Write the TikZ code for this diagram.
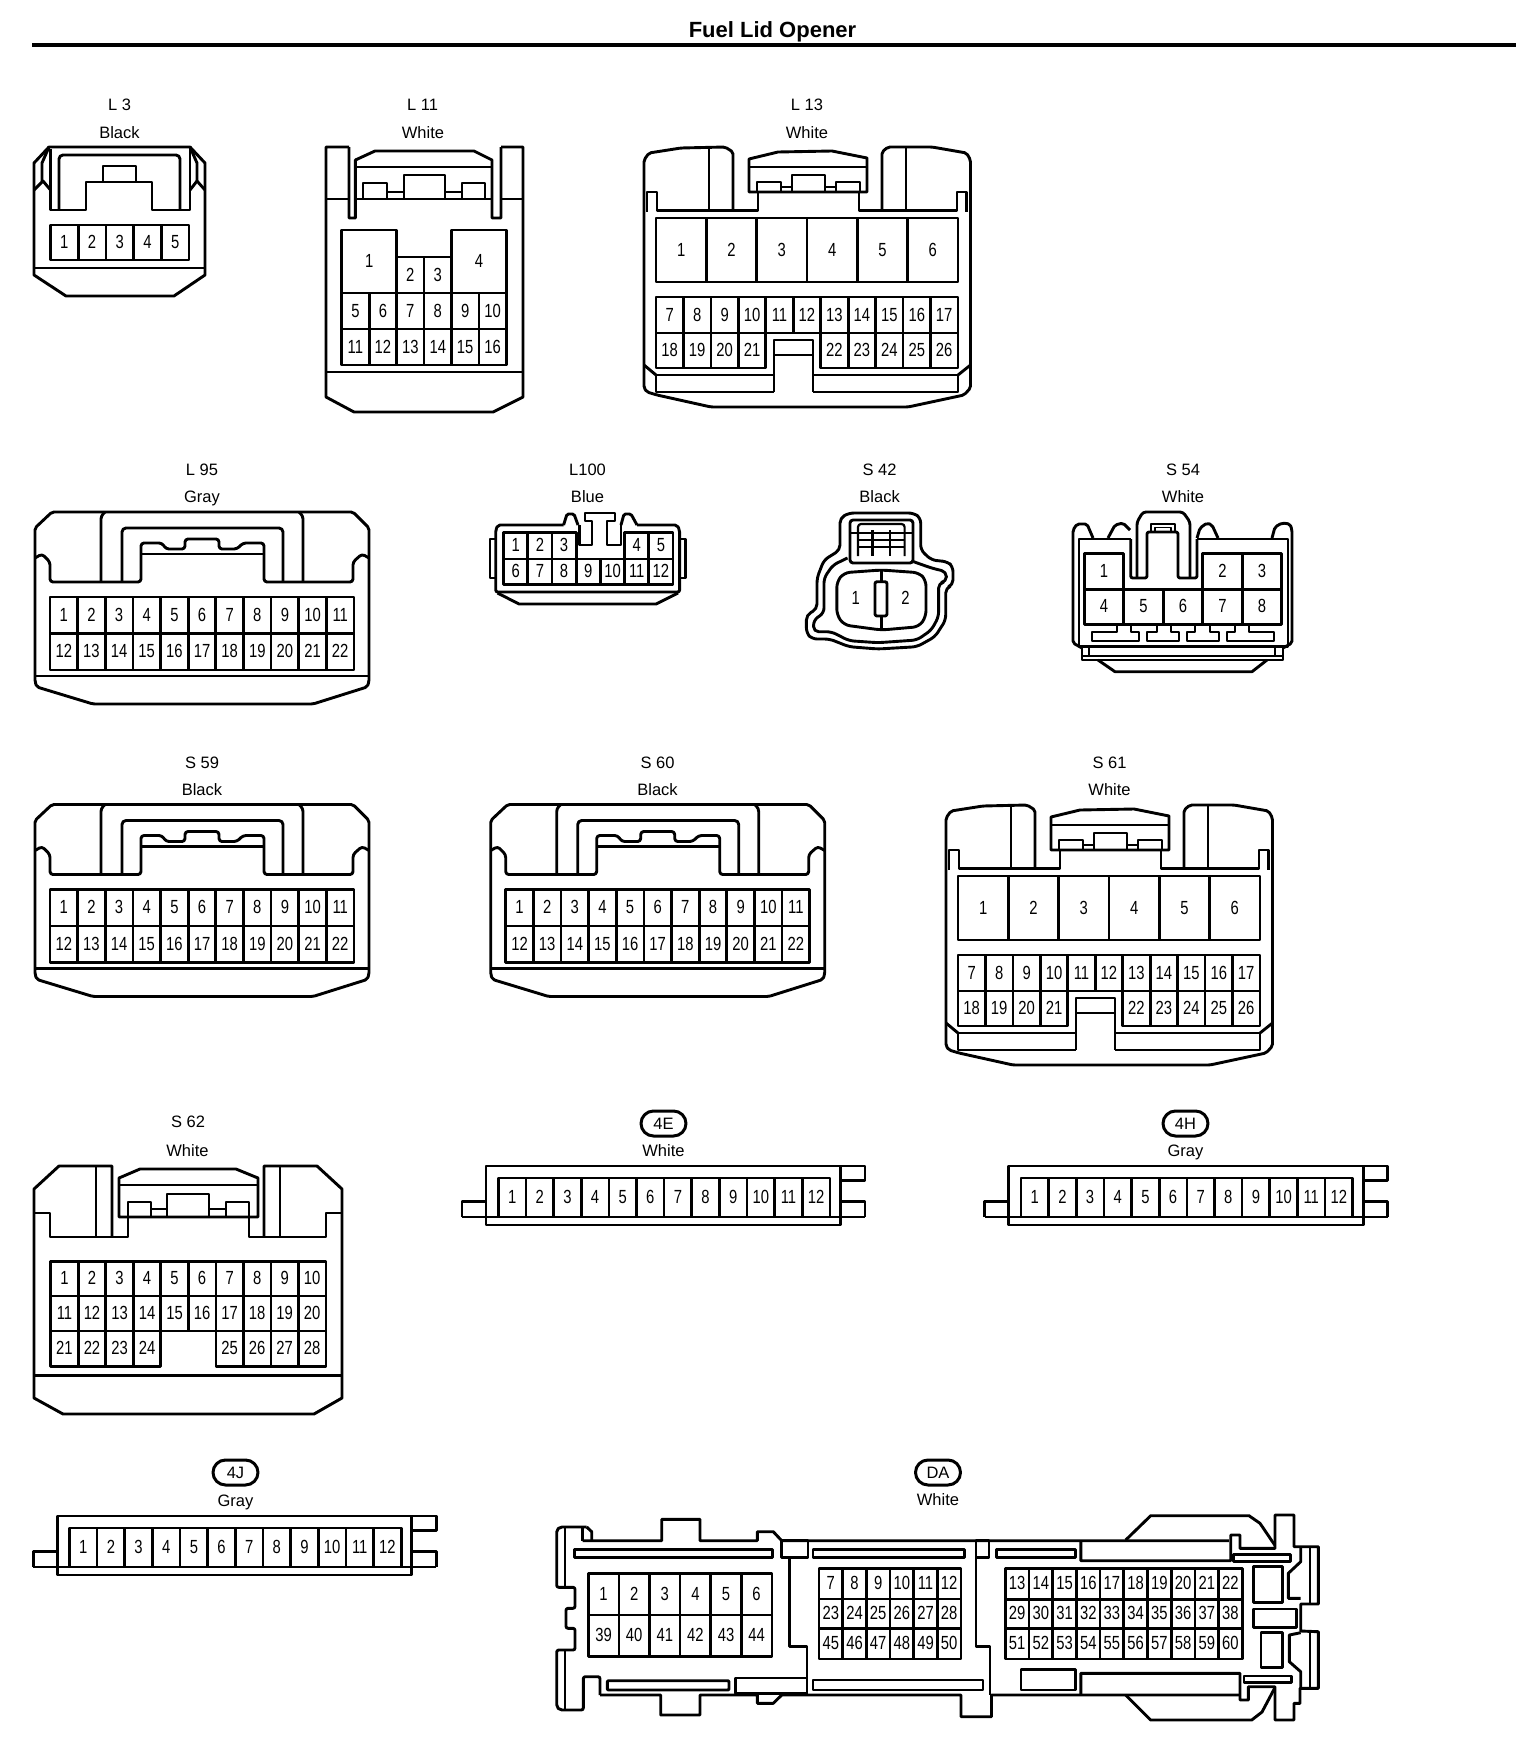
\documentclass[tikz,border=0pt]{standalone}
\usepackage{fontspec}
\setmainfont{Liberation Sans}
\newfontfamily\pinfont[FakeStretch=0.78]{Liberation Sans}
\usetikzlibrary{shapes.misc}

\newcommand{\pinbox}[6]{\node[pincell, minimum width={((#4)-(#2))*1pt}, minimum height={((#5)-(#3))*1pt}] (#1) at ({((#2)+(#4))/2},{((#3)+(#5))/2}) {#6};}
\newcommand{\pinrow}[6]{\foreach \c/\n in {#6} {\node[pincell, minimum width=#4 pt, minimum height=#5 pt] (#1-\n) at ({#2+(\c+.5)*#4},{#3+.5*#5}) {\n};}}

% connector with the six big cavities: L 13, S 61
\newcommand{\wideplug}[1]{
	\draw [rounded corners=2pt] (733,210.7)--(733,152)--(725,147)--(681,148)--(649,153)--(644,160)--(644,388)--(647,392)--(657,395)--(711,407)--(908,407)--(964,395)--(970.5,388)--(970.5,160)--(966.5,153)--(932,147)--(888,147)--(882,152)--(882,210.7);
	\draw (709,148)--(709,210.7);
	\draw (906,148)--(906,210.7);
	\draw (647,212)--(647,192)--(657,192)--(657,210.7)--(758,210.7)--(758,192);
	\draw (859,192)--(859,210.7)--(957,210.7)--(957,192)--(966.5,192)--(966.5,212);
	\draw (749,192)--(749,159)--(778,152)--(832,151)--(867,158)--(867,192)--cycle;
	\draw (749,167)--(867,167);
	\draw (757,192)--(757,182)--(781,182)--(781,192);
	\draw (792,192)--(792,175)--(825,175)--(825,192);
	\draw (836,192)--(836,182)--(860,182)--(860,192);
	\draw (781,187)--(792,187);
	\draw (825,187)--(836,187);
	\foreach \c/\n in {0/1,1/2,2/3,3/4,4/5,5/6} {\pinbox{#1-\n}{656+\c*50.33}{218}{656+\c*50.33+50.33}{282}{\n}}
	\pinrow{#1}{656}{297}{27.45}{36}{0/7,1/8,2/9,3/10,4/11,5/12,6/13,7/14,8/15,9/16,10/17}
	\pinrow{#1}{656}{333}{27.45}{35}{0/18,1/19,2/20,3/21,6/22,7/23,8/24,9/25,10/26}
	\draw (774,392)--(774,340)--(813,340)--(813,392);
	\draw (774,355)--(813,355);
	\draw (774,375)--(656,375)--(656,392)--(774,392);
	\draw (813,375)--(958,375)--(958,392)--(813,392);
	\draw (644,365)--(656,375);
	\draw (970.5,365)--(958,375);
}
% connector with the 22 pins: L 95, S 59, S 60
\newcommand{\flatplug}[1]{
	\draw [rounded corners=2pt] (35,558)--(35,528)--(52,512)--(353,512)--(369,528)--(369,682)--(367,687)--(313,704)--(93,704)--(37,687)--(35,682)--cycle;
	\draw (35,676)--(369,676);
	\draw [rounded corners=3pt] (35,558)--(42,554)--(50,562)--(50,582)--(141,582)--(141,543)--(162,543)--(166,549)--(185,549)--(185,539)--(219,539)--(219,549)--(237,549)--(243,543)--(264,543)--(264,582)--(353,582)--(353,562)--(362,554)--(369,558);
	\draw (141,554)--(264,554);
	\draw [rounded corners=3pt] (101,582)--(101,516)--(105,512);
	\draw [rounded corners=3pt] (303,582)--(303,516)--(299,512);
	\draw [rounded corners=4pt] (122,582)--(122,528)--(283,528)--(283,582);
	\pinrow{#1}{50}{597}{27.64}{36.5}{0/1,1/2,2/3,3/4,4/5,5/6,6/7,7/8,8/9,9/10,10/11}
	\pinrow{#1}{50}{633.5}{27.64}{36.5}{0/12,1/13,2/14,3/15,4/16,5/17,6/18,7/19,8/20,9/21,10/22}
}
% thin strip with 12 pins: 4E, 4H, 4J
\newcommand{\stripplug}[1]{
	\draw (486,1166) rectangle (840.7,1225);
	\draw (462,1217)--(462,1201.7)--(486,1201.7);
	\draw (462,1217)--(865,1217);
	\draw (840.7,1166)--(865,1166)--(865,1180.7)--(840.7,1180.7);
	\draw (840.7,1201.7)--(865,1201.7)--(865,1217);
	\pinrow{#1}{498.3}{1178}{27.64}{39}{0/1,1/2,2/3,3/4,4/5,5/6,6/7,7/8,8/9,9/10,10/11,11/12}
}

\begin{document}
\begin{tikzpicture}[x=1pt, y=-1pt, line width=2.9pt, line join=round]
	\tikzstyle{every node} = [inner sep=0pt, outer sep=0pt]
	\tikzstyle{pincell} = [rectangle, draw, line width=2.7pt, text height=12pt, text depth=0pt, font=\pinfont\fontsize{19}{20}\selectfont]
	\tikzstyle{pinmark} = [text height=12pt, text depth=0pt, font=\pinfont\fontsize{19}{20}\selectfont]
	\tikzstyle{tag} = [text height=10.5pt, text depth=0pt, font=\fontsize{16.5}{18}\selectfont]
	\tikzstyle{badge} = [rounded rectangle, draw, line width=3pt, minimum width=45pt, minimum height=25pt, text height=11pt, text depth=0pt, font=\fontsize{16.5}{18}\selectfont]
	\useasboundingbox (0,0) rectangle (1536,1764);

	\node [font=\bfseries\fontsize{22}{24}\selectfont] (title) at (772.5,31.5) {Fuel Lid Opener};
	\coordinate (ruleL) at (32,45);
	\coordinate (ruleR) at (1515.5,45);
	\draw [line width=4pt] (ruleL) -- (ruleR);

	% L 3
	\node [tag] (l3name) at (119.5,105) {L 3};
	\node [tag] (l3col)  at (119.5,133) {Black};
	\draw (49,147)--(190,147)--(205,163)--(205,275)--(174,296)--(66,296)--(34,275)--(34,163)--cycle;
	\draw (34,268)--(205,268);
	\draw [rounded corners=4pt] (59,210)--(59,155)--(180,155)--(180,210);
	\draw (50.5,149)--(50.5,210)--(86,210)--(86,182)--(152,182)--(152,210)--(190,210)--(190,149);
	\draw (103,182)--(103,166)--(136,166)--(136,182);
	\draw (34,190)--(43,181)--(50.5,190);
	\draw (205,190)--(197,181)--(190,190);
	\draw (49,147)--(42,163)--(42,181);
	\draw (190,147)--(197,163)--(197,181);
	\pinrow{l3}{50.5}{225}{27.7}{35}{0/1,1/2,2/3,3/4,4/5}

	% L 11
	\node [tag] (l11name) at (422.5,105) {L 11};
	\node [tag] (l11col)  at (423,133) {White};
	\draw (349,147)--(326,147)--(326,397)--(354,412)--(493,412)--(523,397)--(523,147)--(501,147);
	\draw (349,147)--(349,218)--(355.4,218)--(355.4,160)--(375,151)--(474,151)--(492,160)--(492,218)--(501,218)--(501,147);
	\draw (355.4,167)--(492,167);
	\draw (326,199)--(349,199);
	\draw (355.4,199)--(492,199);
	\draw (501,199)--(523,199);
	\draw (363,199)--(363,183)--(387,183)--(387,199);
	\draw (404,199)--(404,175)--(445,175)--(445,199);
	\draw (462,199)--(462,183)--(485,183)--(485,199);
	\draw (387,192)--(404,192);
	\draw (445,192)--(462,192);
	\draw (326,372)--(523,372);
	\pinbox{l11-1}{341.7}{230}{396.6}{293}{1}
	\pinbox{l11-4}{451.6}{230}{506.4}{293}{4}
	\pinbox{l11-2}{396.6}{257}{424.1}{293}{2}
	\pinbox{l11-3}{424.1}{257}{451.6}{293}{3}
	\pinrow{l11}{341.7}{293}{27.45}{36}{0/5,1/6,2/7,3/8,4/9,5/10}
	\pinrow{l11}{341.7}{329}{27.45}{36}{0/11,1/12,2/13,3/14,4/15,5/16}

	% L 13
	\node [tag] (l13name) at (807,105) {L 13};
	\node [tag] (l13col)  at (807,133) {White};
	\wideplug{l13}

	% L 95
	\node [tag] (l95name) at (202,470.5) {L 95};
	\node [tag] (l95col)  at (202,497.5) {Gray};
	\flatplug{l95}

	% L100
	\node [tag] (l100name) at (587.5,470.5) {L100};
	\node [tag] (l100col)  at (587.5,497.5) {Blue};
	\draw [rounded corners=2pt] (563.6,525)--(498,525)--(495.7,530)--(495.7,592)--(679.6,592)--(679.6,530)--(677,525)--(637,525);
	\draw (495.7,539)--(490,539)--(490,578)--(495.7,578);
	\draw (679.6,539)--(685.7,539)--(685.7,578)--(679.6,578);
	\draw (497.5,593)--(519,604)--(656,604)--(678,593);
	\draw [rounded corners=1.5pt] (563.6,525)--(567,514)--(574,514)--(578,525);
	\draw [rounded corners=1.5pt] (621,525)--(624,514)--(631,514)--(637,525);
	\draw (579.5,525)--(579.5,545)--(592,545)--(592,521)--(585,521)--(585,513)--(615,513)--(615,521)--(607,521)--(607,545)--(621,545)--(621,525);
	\pinrow{l100}{503.6}{532.7}{24.2}{26.3}{0/1,1/2,2/3,5/4,6/5}
	\pinrow{l100}{503.6}{559}{24.2}{25.3}{0/6,1/7,2/8,3/9,4/10,5/11,6/12}

	% S 42
	\node [tag] (s42name) at (879.6,470.5) {S 42};
	\node [tag] (s42col)  at (879.6,497.5) {Black};
	\draw [rounded corners=5pt] (849,513)--(913.6,513)--(920.7,518)--(920.7,550)--(931.4,560)--(947.5,561.7)--(953,566.7)--(953,585)--(945.7,588)--(945.7,620)--(935,636.7)--(917,646.7)--(878,649)--(849,646.7)--(829.6,639)--(812,639)--(806.4,633)--(806.4,615)--(817,609)--(817,578)--(824,560)--(840,550)--(840,518)--cycle;
	\draw [rounded corners=5pt] (847.5,558)--(833,565)--(824,578)--(824,613)--(813.6,620)--(813.6,631.7)--(831.4,631.7)--(849,640.7)--(878,642.7)--(917,640)--(931.4,630)--(938.6,616.7)--(938.6,583)--(946.4,581.7)--(946.4,571.7)--(931.4,568)--(913.6,561.7);
	\draw [rounded corners=3pt] (850,563)--(850,520)--(913,520)--(913,563)--cycle;
	\draw [line width=2.2pt, rounded corners=3pt] (858,556)--(858,524)--(904.6,524)--(904.6,556);
	\draw [line width=2.2pt] (850,533)--(913,533);
	\draw [line width=2.2pt] (858,540)--(904.6,540);
	\draw [line width=2.2pt] (858,547)--(904.6,547);
	\draw [line width=2.2pt] (872.5,530)--(872.5,556);
	\draw [line width=2.2pt] (890,530)--(890,556);
	\draw [rounded corners=6pt] (844,572.7)--(881.4,570)--(919,572.7)--(926,580)--(926,616.7)--(919,626.7)--(881.4,630)--(844,625)--(836.8,615)--(836.8,581.7)--cycle;
	\draw (881.4,570)--(881.4,581.7);
	\draw (881.4,616)--(881.4,630);
	\draw [rounded corners=2pt] (875,581.7) rectangle (887,616);
	\node [pinmark] (s42-1) at (855.7,598.3) {1};
	\node [pinmark] (s42-2) at (905.4,598.3) {2};

	% S 54
	\node [tag] (s54name) at (1183,470.5) {S 54};
	\node [tag] (s54col)  at (1183,497.5) {White};
	\draw [rounded corners=2pt] (1093,538)--(1087,524)--(1077,524)--(1073,530)--(1073,643)--(1082,648);
	\draw [rounded corners=2pt] (1272,538)--(1275,527)--(1282,523)--(1290,524)--(1292,530)--(1292,643)--(1283,648);
	\draw [rounded corners=2pt] (1108,538)--(1115,525)--(1123,523)--(1130,530);
	\draw [rounded corners=2pt] (1197,538)--(1200,528)--(1207,523)--(1212,525)--(1218,538);
	\draw (1130.7,539)--(1079,539)--(1079,646.7)--(1288,646.7)--(1288,539)--(1197,539);
	\draw [rounded corners=2pt] (1130.7,539)--(1130.7,578)--(1147,578)--(1147,532)--(1178,532)--(1178,578)--(1197,578)--(1197,539);
	\draw [rounded corners=3pt] (1137,578)--(1137,522)--(1143,512)--(1183,512)--(1190,522)--(1190,578);
	\draw (1151,532)--(1151,524)--(1175,524)--(1175,532);
	\draw [line width=1.8pt] (1155,527.5) rectangle (1171,532);
	\pinrow{s54}{1084.3}{553.3}{39.5}{36}{0/1,3/2,4/3}
	\pinrow{s54}{1084.3}{589.3}{39.5}{35}{0/4,1/5,2/6,3/7,4/8}
	\draw (1092,632)--(1117,632)--(1117,625)--(1131,625)--(1131,632)--(1139,632)--(1139,641)--(1092,641)--cycle;
	\draw (1147,632)--(1157,632)--(1157,625)--(1171,625)--(1171,632)--(1179,632)--(1179,641)--(1147,641)--cycle;
	\draw (1187,632)--(1195,632)--(1195,625)--(1210,625)--(1210,632)--(1219,632)--(1219,641)--(1187,641)--cycle;
	\draw (1227,632)--(1235,632)--(1235,625)--(1249,625)--(1249,632)--(1274,632)--(1274,641)--(1227,641)--cycle;
	\draw (1082,648)--(1082,660)--(1283,660)--(1283,648);
	\draw [line width=2.2pt] (1082,656)--(1283,656);
	\draw (1089,647)--(1089,656);
	\draw (1275,647)--(1275,656);
	\draw (1098,660)--(1115,671.7)--(1252,671.7)--(1267,660);

	% S 59
	\node [tag] (s59name) at (202,763.5) {S 59};
	\node [tag] (s59col)  at (202,790.5) {Black};
	\begin{scope}[shift={(0,292.5)}]
		\flatplug{s59}
	\end{scope}

	% S 60
	\node [tag] (s60name) at (657.5,763.5) {S 60};
	\node [tag] (s60col)  at (657.5,790.5) {Black};
	\begin{scope}[shift={(455.7,292.5)}]
		\flatplug{s60}
	\end{scope}

	% S 61
	\node [tag] (s61name) at (1109.5,763.5) {S 61};
	\node [tag] (s61col)  at (1109.5,790.5) {White};
	\begin{scope}[shift={(302,658)}]
		\wideplug{s61}
	\end{scope}

	% S 62
	\node [tag] (s62name) at (188,1122.5) {S 62};
	\node [tag] (s62col)  at (187.5,1151) {White};
	\draw (112,1237)--(112,1166)--(59,1166)--(34,1189)--(34,1398)--(63,1414)--(314,1414)--(342,1398)--(342,1189)--(317,1166)--(264,1166)--(264,1237);
	\draw (96,1166)--(96,1237);
	\draw (280,1166)--(280,1237);
	\draw (34,1213)--(50,1213)--(50,1237)--(128,1237)--(128,1217);
	\draw (342,1213)--(326,1213)--(326,1237)--(249,1237)--(249,1217);
	\draw (119,1217)--(119,1178)--(140,1169)--(236,1169)--(258,1178)--(258,1217)--cycle;
	\draw (119,1185)--(258,1185);
	\draw (128,1217)--(128,1202)--(151,1202)--(151,1217);
	\draw (167,1217)--(167,1194)--(209,1194)--(209,1217);
	\draw (226,1217)--(226,1202)--(249,1202)--(249,1217);
	\draw (151,1209)--(167,1209);
	\draw (209,1209)--(226,1209);
	\draw (34,1375.7)--(342,1375.7);
	\pinrow{s62}{50.7}{1261.3}{27.53}{34.7}{0/1,1/2,2/3,3/4,4/5,5/6,6/7,7/8,8/9,9/10}
	\pinrow{s62}{50.7}{1296}{27.53}{35}{0/11,1/12,2/13,3/14,4/15,5/16,6/17,7/18,8/19,9/20}
	\pinrow{s62}{50.7}{1331}{27.53}{35.8}{0/21,1/22,2/23,3/24,6/25,7/26,8/27,9/28}

	% 4E
	\node [badge] (b4e) at (663.5,1123.5) {4E};
	\node [tag] (b4ecol) at (663.5,1151.5) {White};
	\stripplug{b4e}

	% 4H
	\node [badge] (b4h) at (1185.5,1123.5) {4H};
	\node [tag] (b4hcol) at (1185.5,1151.5) {Gray};
	\begin{scope}[shift={(522.7,0)}]
		\stripplug{b4h}
	\end{scope}

	% 4J
	\node [badge] (b4j) at (235.5,1472.5) {4J};
	\node [tag] (b4jcol) at (235.5,1501.5) {Gray};
	\begin{scope}[shift={(-428.8,350)}]
		\stripplug{b4j}
	\end{scope}

	% DA
	\node [badge] (da) at (938,1472.5) {DA};
	\node [tag] (dacol) at (938,1500.5) {White};
	\draw [rounded corners=2pt] (586.7,1527)--(560,1527)--(556.7,1530)--(556.7,1587.3)--(575,1587.3)--(575,1608.3)--(566,1608.3)--(566,1628.3)--(575,1628.3)--(575,1650)--(556.7,1650)--(556.7,1706.7)--(560,1710)--(583.3,1710)--(583.3,1676.7)--(600,1676.7)--(600,1695);
	\draw (582.7,1527)--(582.7,1540.7);
	\draw (586.7,1527)--(591.7,1531.7)--(591.7,1540.7);
	\draw (565,1528)--(565,1587);
	\draw (565,1650)--(565,1709);
	\draw (582.7,1540.7)--(661.7,1540.7)--(661.7,1519.3)--(700,1519.3)--(700,1540.7)--(757.3,1540.7)--(757.3,1531.7)--(773.3,1531.7)--(781.7,1540.7)--(1228.8,1540.7);
	\draw (600,1695)--(660.7,1695)--(660.7,1715)--(700,1715)--(700,1695)--(757.3,1695)--(757.3,1703.3)--(773.3,1703.3)--(781.7,1695)--(961,1695)--(961,1716.7)--(991.5,1716.7)--(991.5,1695)--(1240,1695);
	\draw (574.3,1549.3) rectangle (772.7,1557.3);
	\draw [rounded corners=1pt] (607.3,1680.7) rectangle (729,1690);
	\pinrow{da}{588.3}{1573.3}{30.6}{41.7}{0/1,1/2,2/3,3/4,4/5,5/6}
	\pinrow{da}{588.3}{1615}{30.6}{41.7}{0/39,1/40,2/41,3/42,4/43,5/44}
	\draw (781.7,1540.7) rectangle (808,1557.3);
	\draw (789.3,1557.3)--(789.3,1646.7)--(807,1646.7)--(807,1695);
	\draw (807,1678)--(735.7,1678)--(735.7,1693.3)--(807,1693.3);
	\draw (813,1549.3) rectangle (964.5,1557.3);
	\pinrow{da}{819}{1568.3}{23.67}{30.7}{0/7,1/8,2/9,3/10,4/11,5/12}
	\pinrow{da}{819}{1599}{23.67}{29.5}{0/23,1/24,2/25,3/26,4/27,5/28}
	\pinrow{da}{819}{1628.5}{23.67}{30.5}{0/45,1/46,2/47,3/48,4/49,5/50}
	\draw (813,1680) rectangle (983,1690);
	\draw (976,1540.7) rectangle (989,1557.3);
	\draw (976,1557.3)--(976,1646.7)--(990,1646.7)--(990,1695);
	\draw (996.6,1549.3) rectangle (1075.7,1557.3);
	\draw (1080.8,1540.7)--(1080.8,1560.7)--(1230.7,1560.7)--(1230.7,1535)--(1240,1535)--(1240,1548.3)--(1275,1548.3)--(1275,1515)--(1294,1515)--(1294,1546.7)--(1318.3,1546.7)--(1318.3,1604)--(1300.7,1604)--(1300.7,1631)--(1318.3,1631.7)--(1318.3,1688.3)--(1300,1688.3)--(1300,1703.3)--(1294,1703.3)--(1294,1720)--(1275,1720)--(1275,1686.7)--(1248.3,1686.7)--(1248.3,1700)--(1240,1700)--(1240,1673.3)--(1080.8,1673.3)--(1080.8,1695);
	\draw (1125.7,1540)--(1150.7,1515.7)--(1249,1515.7)--(1260,1523.3)--(1274.7,1545);
	\draw (1125.7,1695)--(1150.7,1720)--(1251.7,1720)--(1262,1712)--(1274.7,1688);
	\pinrow{da}{1005.3}{1568.3}{23.7}{31}{0/13,1/14,2/15,3/16,4/17,5/18,6/19,7/20,8/21,9/22}
	\pinrow{da}{1005.3}{1599.3}{23.7}{29}{0/29,1/30,2/31,3/32,4/33,5/34,6/35,7/36,8/37,9/38}
	\pinrow{da}{1005.3}{1628.3}{23.7}{30.7}{0/51,1/52,2/53,3/54,4/55,5/56,6/57,7/58,8/59,9/60}
	\draw (1021,1669.3) rectangle (1075.7,1690);
	\draw (1233.3,1554.3) rectangle (1290.7,1561.7);
	\draw (1244,1676) rectangle (1291.7,1682.7);
	\draw (1253.3,1566.7) rectangle (1282.3,1602.3);
	\draw (1253.3,1609) rectangle (1296.7,1627.3);
	\draw (1261,1632.7) rectangle (1282.3,1667.7);
	\draw (1300.7,1548)--(1300.7,1561.7)--(1288.3,1573.3)--(1288.3,1598.3)--(1300.7,1598.3);
	\draw (1300.7,1632.7)--(1289.3,1635)--(1289.3,1661.7)--(1300.7,1671.7)--(1300.7,1688);
	\draw (1310,1547)--(1310,1604);
	\draw (1310,1631)--(1310,1688);
\end{tikzpicture}
\end{document}
